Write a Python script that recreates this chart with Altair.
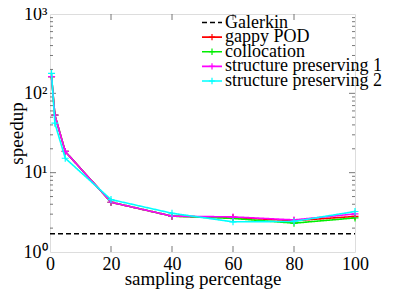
import altair as alt
import pandas as pd

x_pct = [0.5, 1.6, 5, 20, 40, 60, 80, 100]
gappy_pod = [162, 53, 18.5, 4.24, 2.83, 2.72, 2.48, 2.81]
collocation = [162, 53, 18.5, 4.24, 2.83, 2.65, 2.31, 2.69]
struct_pres_1 = [162, 53, 18.5, 4.24, 2.83, 2.77, 2.54, 3.02]
struct_pres_2 = [178, 42, 15.2, 4.58, 3.08, 2.40, 2.43, 3.24]
galerkin_x = [0, 100]
galerkin_y = [1.70, 1.70]

series_names = ["Galerkin", "gappy POD", "collocation",
                "structure preserving 1", "structure preserving 2"]
series_colors = ["#000000", "#ff0000", "#00ee00", "#ff00ff", "#00ffff"]
series_dash = [[5, 3], [1, 0], [1, 0], [1, 0], [1, 0]]

y_major = [1, 10, 100, 1000]
y_minor = [2, 3, 4, 5, 6, 7, 8, 9, 20, 30, 40, 50, 60, 70, 80, 90,
           200, 300, 400, 500, 600, 700, 800, 900]
x_ticks = [20, 40, 60, 80]

rows = []
for xv, yv in zip(galerkin_x, galerkin_y):
    rows.append({"x": xv, "y": yv, "series": "Galerkin"})
for name, vals in [("gappy POD", gappy_pod), ("collocation", collocation),
                   ("structure preserving 1", struct_pres_1),
                   ("structure preserving 2", struct_pres_2)]:
    for xv, yv in zip(x_pct, vals):
        rows.append({"x": xv, "y": yv, "series": name})
df = pd.DataFrame(rows)

W, H = 305, 238
FONT = "Times New Roman"
FRAME = "#555555"
CROSS = "M-1,0L1,0M0,-1L0,1"

xscale = alt.Scale(domain=[0, 100], nice=False, zero=False)
yscale = alt.Scale(type="log", domain=[1, 1000], nice=False)
cscale = alt.Scale(domain=series_names, range=series_colors)
dscale = alt.Scale(domain=series_names, range=series_dash)

xaxis = alt.Axis(values=[0, 20, 40, 60, 80, 100], format="d", ticks=False,
                 domain=False, grid=False, labelFlush=False,
                 labelFont=FONT, labelFontSize=18,
                 labelColor="#000000", labelPadding=3,
                 title="sampling percentage", titleFont=FONT,
                 titleFontSize=19, titleFontWeight="normal",
                 titleColor="#000000", titlePadding=-4)
yaxis = alt.Axis(values=y_major, ticks=False, domain=False, grid=False,
                 labelFlush=False,
                 labelExpr="datum.value == 1 ? '10⁰' : datum.value == 10 ? '10¹' : datum.value == 100 ? '10²' : '10³'",
                 labelFont=FONT, labelFontSize=18, labelColor="#000000",
                 labelPadding=3, title="speedup", titleFont=FONT,
                 titleFontSize=19, titleFontWeight="normal",
                 titleColor="#000000", titlePadding=-3)

layers = []
for name in series_names:
    sub = alt.Chart(df).transform_filter(alt.datum.series == name)
    line = sub.mark_line(strokeWidth=1.6, clip=True).encode(
        x=alt.X("x:Q", scale=xscale, axis=xaxis),
        y=alt.Y("y:Q", scale=yscale, axis=yaxis),
        color=alt.Color("series:N", scale=cscale, legend=None),
        strokeDash=alt.StrokeDash("series:N", scale=dscale, legend=None),
    )
    layers.append(line)
    if name != "Galerkin":
        pts = sub.mark_point(shape=CROSS, filled=False,
                             size=49, strokeWidth=1.2, opacity=1).encode(
            x=alt.X("x:Q", scale=xscale, axis=xaxis),
            y=alt.Y("y:Q", scale=yscale, axis=yaxis),
            color=alt.Color("series:N", scale=cscale, legend=None),
        )
        layers.append(pts)

ymaj_df = pd.DataFrame({"v": y_major[1:-1]})
ymin_df = pd.DataFrame({"v": y_minor})
xt_df = pd.DataFrame({"v": x_ticks})

def yticks(data, x0, x1):
    return alt.Chart(data).mark_rule(color=FRAME, strokeWidth=0.8).encode(
        y=alt.Y("v:Q", scale=yscale, axis=yaxis), x=alt.value(x0), x2=alt.value(x1))

def xticks(data, y0, y1):
    return alt.Chart(data).mark_rule(color=FRAME, strokeWidth=0.8).encode(
        x=alt.X("v:Q", scale=xscale, axis=xaxis), y=alt.value(y0), y2=alt.value(y1))

tick_layers = [
    yticks(ymaj_df, 0, 6), yticks(ymin_df, 0, 3),
    yticks(ymaj_df, W - 6, W), yticks(ymin_df, W - 3, W),
    xticks(xt_df, H - 6, H), xticks(xt_df, 0, 6),
]

main = alt.layer(*tick_layers, *layers)

# legend drawn inside the plot, top right
leg_df = pd.DataFrame({"series": series_names})
leg_y = alt.Y("series:N", axis=None,
              scale=alt.Scale(type="point", domain=series_names,
                              range=[8.5, 67], padding=0))
leg_lines = alt.Chart(leg_df).mark_rule(strokeWidth=1.6).encode(
    x=alt.value(152), x2=alt.value(172), y=leg_y,
    color=alt.Color("series:N", scale=cscale, legend=None),
    strokeDash=alt.StrokeDash("series:N", scale=dscale, legend=None),
)
leg_pts = alt.Chart(leg_df).transform_filter(
    alt.datum.series != "Galerkin").mark_point(
    shape=CROSS, filled=False, size=40, strokeWidth=1.2, opacity=1).encode(
    x=alt.value(162), y=leg_y,
    color=alt.Color("series:N", scale=cscale, legend=None),
)
leg_text = alt.Chart(leg_df).mark_text(
    align="left", baseline="middle", font=FONT, fontSize=18,
    color="#000000").encode(x=alt.value(175), y=leg_y, text="series:N")
legend_layer = alt.layer(leg_lines, leg_pts, leg_text)

chart = alt.layer(main, legend_layer).resolve_scale(y="independent").properties(
    width=W, height=H,
    autosize=alt.AutoSizeParams(type="none"),
    padding={"left": 42, "top": 6, "right": 36, "bottom": 38},
).configure_view(stroke=FRAME, strokeWidth=1.2).configure(background="white")

chart.save("out.html", embed_options={"renderer": "svg", "actions": False})
